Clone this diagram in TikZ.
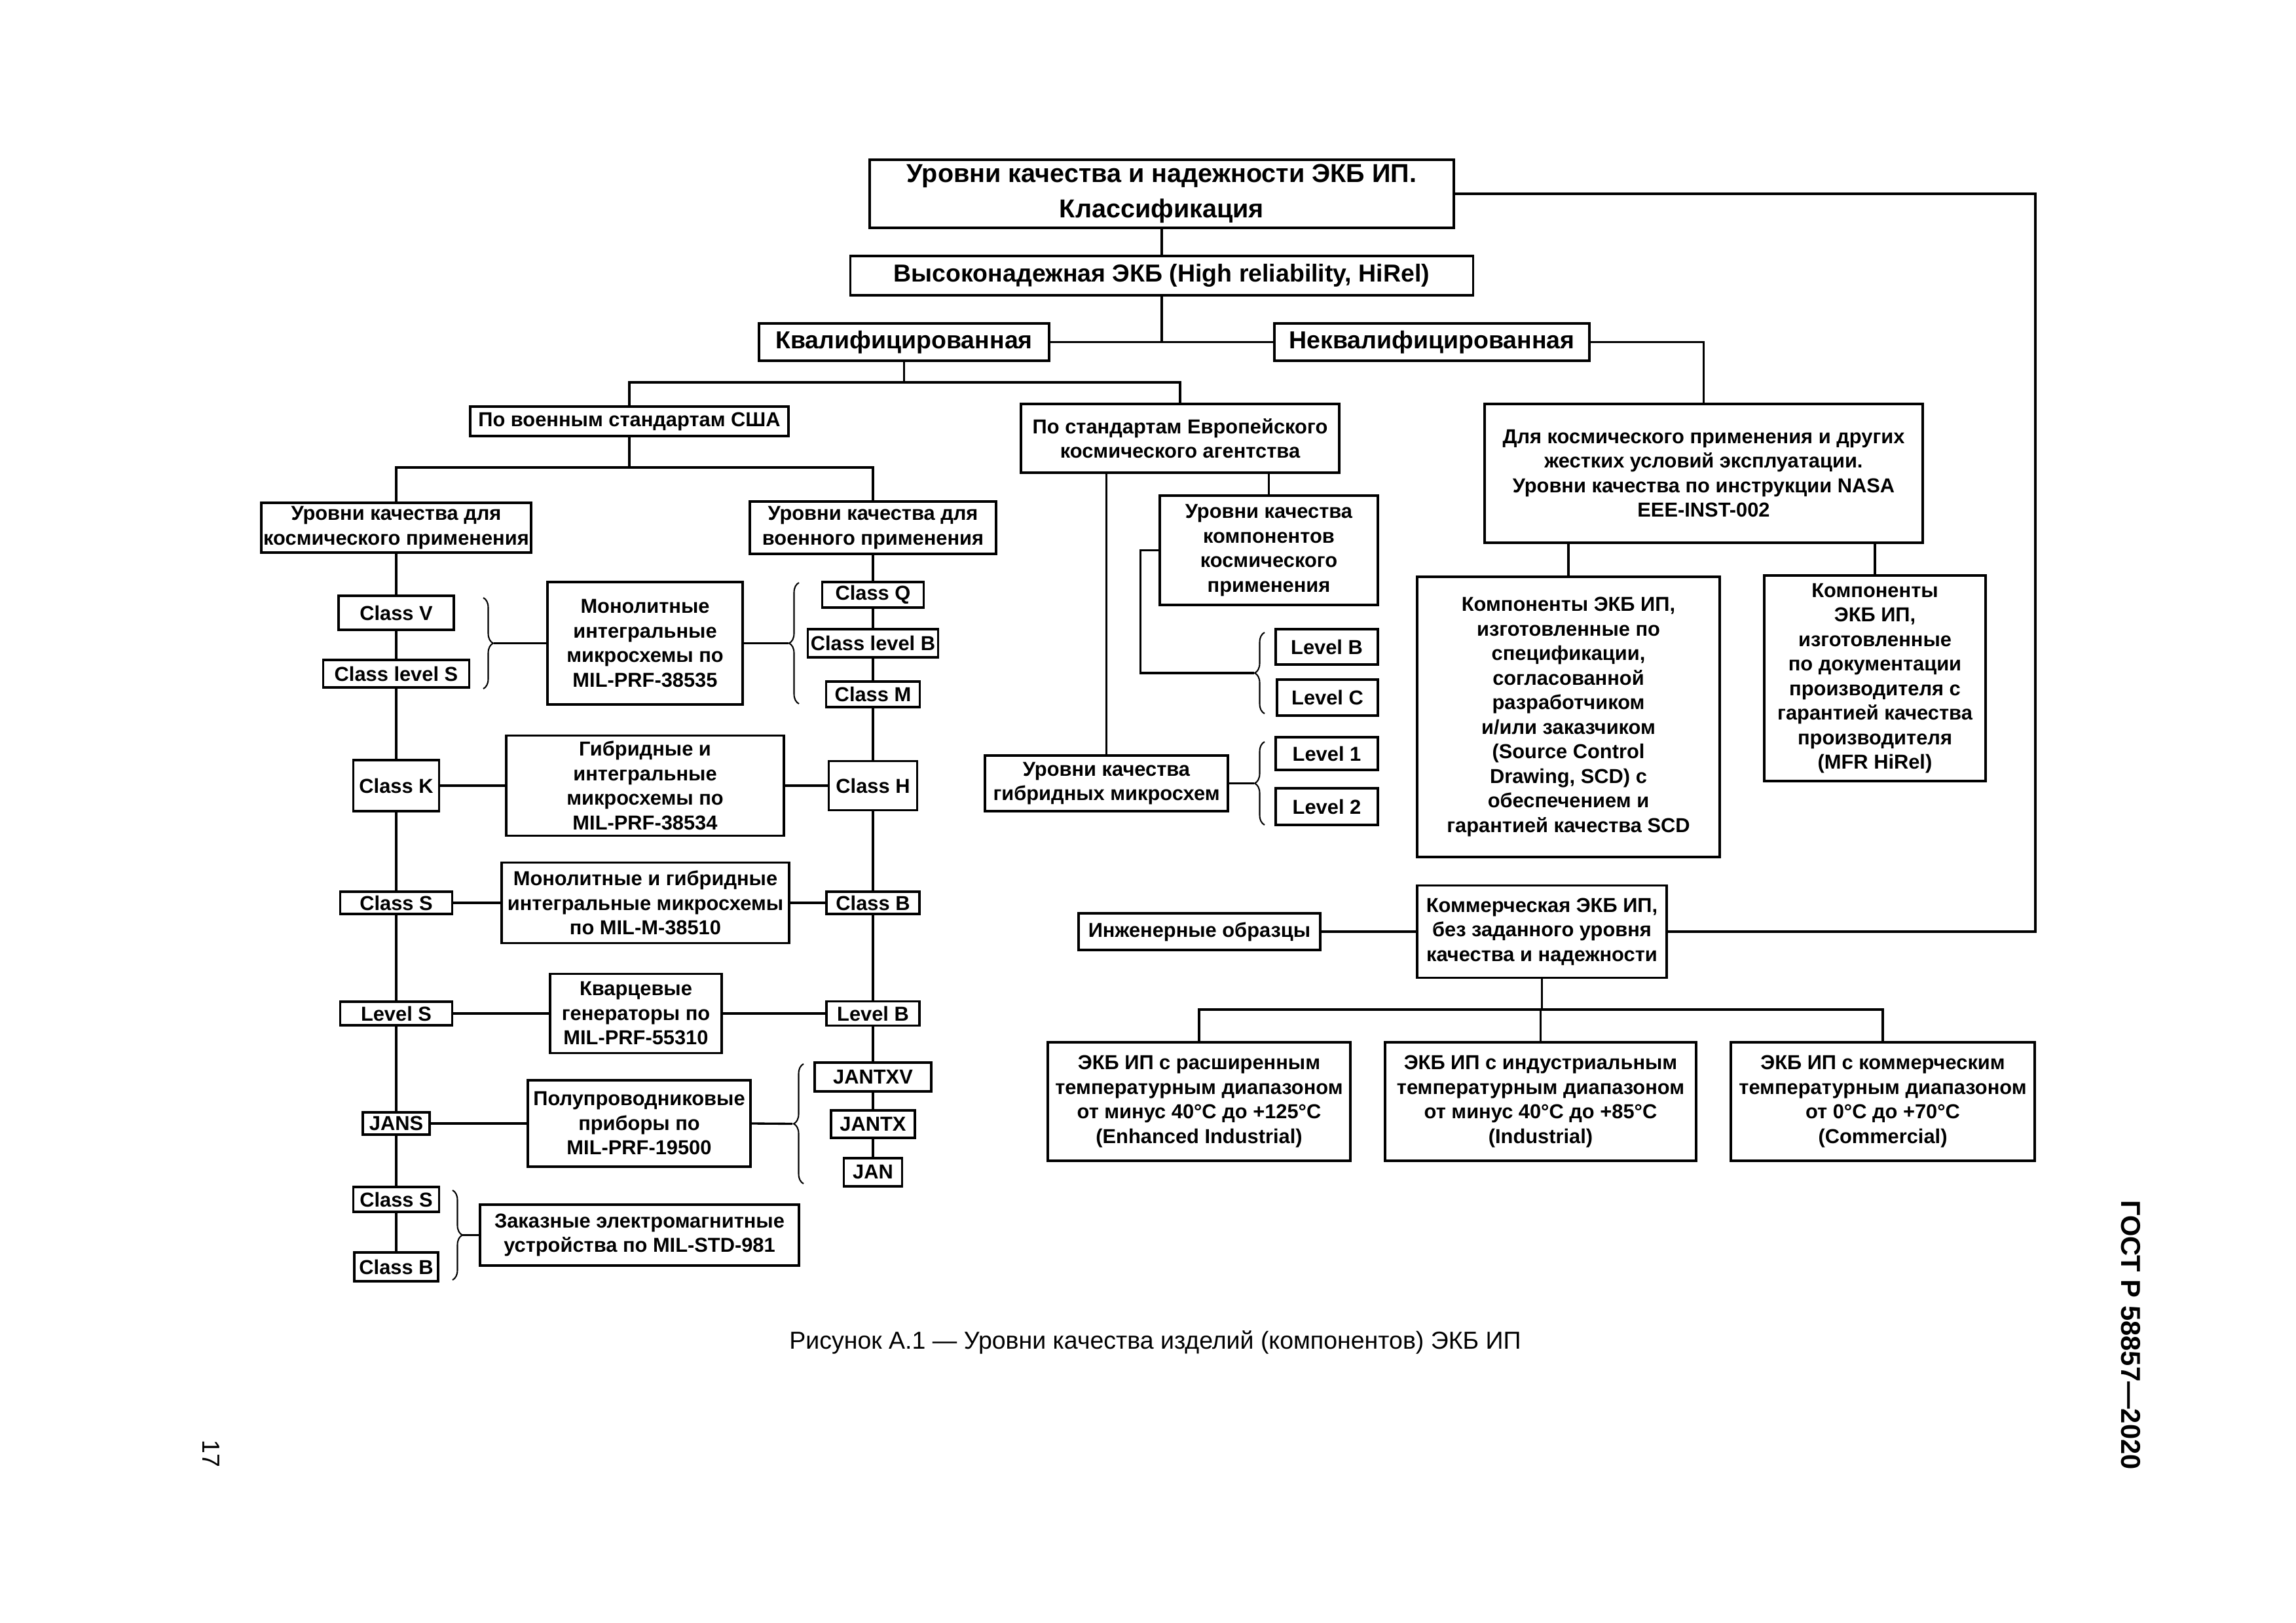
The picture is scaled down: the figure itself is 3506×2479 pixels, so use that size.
\documentclass[tikz,border=0pt]{standalone}
\usepackage{fontspec}
\setmainfont{Liberation Sans}
\usetikzlibrary{decorations.pathreplacing}
\newdimen\upx \upx=0.24pt
\tikzset{
  box/.style={draw,line width=0.8pt,fill=white,inner sep=0pt,align=center,font=\bfseries\fontsize{7.4}{9}\selectfont},
  bigbox/.style={box,font=\bfseries\fontsize{9}{12}\selectfont},
  wire/.style={line width=0.8pt},
  brc/.style={line width=0.5pt,decorate,decoration={brace,amplitude=3.6pt}},
  sz/.style 2 args={minimum width=#1\upx,minimum height=#2\upx}
}
\begin{document}
\begin{tikzpicture}[x=0.24pt,y=-0.24pt]
\useasboundingbox (0,0) rectangle (3506,2479);

% ---- top levels
\node[bigbox,sz={892}{104},font=\bfseries\fontsize{9.5}{13}\selectfont] (top) at (1774,296) {Уровни качества и надежности ЭКБ ИП.\\Классификация};
\node[bigbox,sz={951}{60}] (hirel) at (1774,421) {Высоконадежная ЭКБ (High reliability, HiRel)};
\node[bigbox,sz={443}{57}] (kval) at (1380.5,522.5) {Квалифицированная};
\node[bigbox,sz={481}{57}] (nekval) at (2186.5,522.5) {Неквалифицированная};

% ---- second level
\node[box,sz={486}{45}] (usa) at (961,643.5) {По военным стандартам США};
\node[box,sz={486}{105}] (esa) at (1802,669.5) {По стандартам Европейского\\космического агентства};
\node[box,sz={669}{212}] (nasa) at (2601.5,723) {Для космического применения и других\\жестких условий эксплуатации.\\Уровни качества по инструкции NASA\\EEE-INST-002};

% ---- USA
\node[box,sz={412}{76}] (spL) at (605,806) {Уровни качества для\\космического применения};
\node[box,sz={376}{80}] (milR) at (1333,806) {Уровни качества для\\военного применения};

\node[box,sz={176}{52}] (cV) at (605,936) {Class V};
\node[box,sz={223}{42}] (cLS) at (605,1029) {Class level S};
\node[box,sz={298}{187}] (mono) at (985,982.5) {Монолитные\\интегральные\\микросхемы по\\MIL-PRF-38535};
\node[box,sz={155}{39}] (cQ) at (1333,908.5) {Class Q};
\node[box,sz={199}{43}] (cLB) at (1333,982.5) {Class level B};
\node[box,sz={143}{39}] (cM) at (1333,1060.5) {Class M};

\node[box,sz={131}{78}] (cK) at (605,1200) {Class K};
\node[box,sz={424}{153}] (hyb) at (985,1200) {Гибридные и\\интегральные\\микросхемы по\\MIL-PRF-38534};
\node[box,sz={135}{75}] (cH) at (1333,1200) {Class H};

\node[box,sz={171}{34}] (cS) at (605,1379) {Class S};
\node[box,sz={439}{123}] (mh) at (985.5,1379) {Монолитные и гибридные\\интегральные микросхемы\\по MIL-M-38510};
\node[box,sz={142}{34}] (cB) at (1333,1379) {Class B};

\node[box,sz={171}{36}] (lS) at (605,1548) {Level S};
\node[box,sz={262}{121}] (quartz) at (971,1548) {Кварцевые\\генераторы по\\MIL-PRF-55310};
\node[box,sz={142}{37}] (lB) at (1333,1548) {Level B};

\node[box,sz={178}{44}] (jantxv) at (1333,1645) {JANTXV};
\node[box,sz={128}{42}] (jantx) at (1333,1717) {JANTX};
\node[box,sz={89}{43}] (jan) at (1333,1790.5) {JAN};
\node[box,sz={102}{34}] (jans) at (605,1716) {JANS};
\node[box,sz={340}{132}] (semi) at (976,1716) {Полупроводниковые\\приборы по\\MIL-PRF-19500};

\node[box,sz={131}{38}] (cS2) at (605,1832) {Class S};
\node[box,sz={128}{44}] (cB2) at (605,1935) {Class B};
\node[box,sz={487}{93}] (emag) at (976.5,1886.5) {Заказные электромагнитные\\устройства по MIL-STD-981};

% ---- ESA
\node[box,sz={333}{167}] (comp) at (1937.5,840.5) {Уровни качества\\компонентов\\космического\\применения};
\node[box,sz={156}{54}] (lvB) at (2026,988) {Level B};
\node[box,sz={154}{55}] (lvC) at (2027,1065.5) {Level C};
\node[box,sz={371}{85}] (hybL) at (1689.5,1196.5) {Уровни качества\\гибридных микросхем};
\node[box,sz={156}{50}] (lv1) at (2026,1151) {Level 1};
\node[box,sz={156}{56}] (lv2) at (2026,1232) {Level 2};

% ---- NASA
\node[box,sz={462}{428}] (scd) at (2395,1095) {Компоненты ЭКБ ИП,\\изготовленные по\\спецификации,\\согласованной\\разработчиком\\и/или заказчиком\\(Source Control\\Drawing, SCD) с\\обеспечением и\\гарантией качества SCD};
\node[box,sz={338}{314}] (mfr) at (2863,1036) {Компоненты\\ЭКБ ИП,\\изготовленные\\по документации\\производителя с\\гарантией качества\\производителя\\(MFR HiRel)};

% ---- commercial
\node[box,sz={369}{56}] (eng) at (1831.5,1423) {Инженерные образцы};
\node[box,sz={381}{141}] (comm) at (2354.5,1423) {Коммерческая ЭКБ ИП,\\без заданного уровня\\качества и надежности};
\node[box,sz={462}{181}] (b1) at (1831,1682.5) {ЭКБ ИП с расширенным\\температурным диапазоном\\от минус 40°C до +125°C\\(Enhanced Industrial)};
\node[box,sz={475}{181}] (b2) at (2352.5,1682.5) {ЭКБ ИП с индустриальным\\температурным диапазоном\\от минус 40°C до +85°C\\(Industrial)};
\node[box,sz={464}{181}] (b3) at (2875,1682.5) {ЭКБ ИП с коммерческим\\температурным диапазоном\\от 0°C до +70°C\\(Commercial)};

% ---- texts
\node[font=\fontsize{9}{11}\selectfont] (cap) at (1764,2050) {Рисунок А.1 — Уровни качества изделий (компонентов) ЭКБ ИП};
\node[rotate=-90,font=\bfseries\fontsize{10}{12}\selectfont] (gost) at (3254,2039) {ГОСТ Р 58857—2020};
\node[rotate=-90,font=\fontsize{9}{11}\selectfont] (pg) at (322,2220) {17};

% ---- connectors: top
\draw[wire] (top) -- (hirel);
\draw[wire] (kval) -- (nekval);
\draw[wire] (hirel.south) -- (hirel.south |- kval.east);
\coordinate (rc) at (3108,1423);
\draw[wire] (top.east) -| (rc) -- (comm.east);
\draw[wire] (nekval.east) -| (nasa.north);

\coordinate (bus1) at (0,584);
\draw[wire] (kval.south) -- (kval.south |- bus1);
\draw[wire] (usa.north) |- (bus1 -| esa.north) -- (esa.north);

\coordinate (bus2) at (0,714);
\draw[wire] (spL.north) |- (bus2 -| milR.north) -- (milR.north);
\draw[wire] (usa.south) -- (usa.south |- bus2);

% left chain
\draw[wire] (spL) -- (cV);
\draw[wire] (cV) -- (cLS);
\draw[wire] (cLS) -- (cK);
\draw[wire] (cK) -- (cS);
\draw[wire] (cS) -- (lS);
\draw[wire] (lS) -- (jans);
\draw[wire] (jans) -- (cS2);
\draw[wire] (cS2) -- (cB2);
% right chain
\draw[wire] (milR) -- (cQ);
\draw[wire] (cQ) -- (cLB);
\draw[wire] (cLB) -- (cM);
\draw[wire] (cM) -- (cH);
\draw[wire] (cH) -- (cB);
\draw[wire] (cB) -- (lB);
\draw[wire] (lB) -- (jantxv);
\draw[wire] (jantxv) -- (jantx);
\draw[wire] (jantx) -- (jan);
% horizontal links
\draw[wire] (cK) -- (hyb);
\draw[wire] (hyb) -- (cH);
\draw[wire] (cS) -- (mh);
\draw[wire] (mh) -- (cB);
\draw[wire] (lS) -- (quartz);
\draw[wire] (quartz) -- (lB);
\draw[wire] (jans) -- (semi);

% braces
\draw[brc] (738,913) -- (738,1052);
\coordinate (t1) at (754,982.5);
\draw[wire] (t1) -- (mono.west);
\draw[brc] (1220,1075) -- (1220,890);
\coordinate (t2) at (1204,982.5);
\draw[wire] (mono.east) -- (t2);
\draw[brc] (1227,1808) -- (1227,1625);
\coordinate (t5) at (1210,1716.5);
\draw[wire] (semi.east) -- (t5);
\draw[brc] (691,1818) -- (691,1955);
\coordinate (t6) at (705,1886.5);
\draw[wire] (t6) -- (emag.west);

% ESA connectors
\draw[wire] (hybL.north |- esa.south) -- (hybL.north);
\draw[wire] (comp.north |- esa.south) -- (comp.north);
\draw[brc] (1931,1090) -- (1931,966);
\coordinate (t3) at (1915,1028);
\draw[wire] (comp.west) -- ++(-28,0) |- (t3);
\draw[brc] (1931,1260) -- (1931,1133);
\coordinate (t4) at (1915,1196.5);
\draw[wire] (hybL.east) -- (t4);

% NASA connectors
\draw[wire] (scd.north |- nasa.south) -- (scd.north);
\draw[wire] (mfr.north |- nasa.south) -- (mfr.north);

% commercial connectors
\draw[wire] (eng) -- (comm);
\coordinate (bus3) at (0,1542);
\draw[wire] (comm.south) -- (comm.south |- bus3);
\draw[wire] (b1.north) |- (bus3 -| b3.north) -- (b3.north);
\draw[wire] (b2.north) -- (b2.north |- bus3);
\end{tikzpicture}
\end{document}
